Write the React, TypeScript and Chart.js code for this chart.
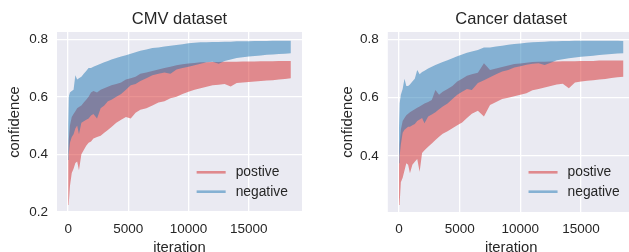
import React, { useEffect, useRef } from 'react';
import { Chart, registerables } from 'chart.js';

Chart.register(...registerables);

// ---- data (upper / lower envelope of each noisy curve) ----
const iterations = [0, 50, 150, 300, 450, 600, 750, 900, 1100, 1300, 1500, 1700, 1900, 2100, 2400, 2700, 3000, 3300, 3600, 4000, 4400, 4800, 5200, 5600, 6000, 6500, 7000, 7500, 8000, 8500, 9000, 9500, 10000, 10500, 11000, 11500, 12000, 12500, 13000, 13500, 14000, 14500, 15000, 15500, 16000, 16500, 17000, 17500, 18000, 18500];

const cmvPositiveHigh = [0.38, 0.45, 0.50, 0.53, 0.54, 0.55, 0.56, 0.565, 0.57, 0.58, 0.59, 0.60, 0.615, 0.62, 0.615, 0.625, 0.63, 0.635, 0.64, 0.645, 0.65, 0.66, 0.665, 0.67, 0.68, 0.685, 0.69, 0.695, 0.70, 0.705, 0.71, 0.713, 0.716, 0.718, 0.72, 0.72, 0.721, 0.721, 0.722, 0.722, 0.722, 0.723, 0.723, 0.723, 0.724, 0.724, 0.724, 0.725, 0.725, 0.725];
const cmvPositiveLow = [0.224, 0.228, 0.29, 0.335, 0.35, 0.37, 0.375, 0.345, 0.40, 0.415, 0.43, 0.44, 0.445, 0.455, 0.46, 0.465, 0.475, 0.485, 0.495, 0.51, 0.52, 0.53, 0.525, 0.545, 0.555, 0.56, 0.57, 0.58, 0.585, 0.595, 0.60, 0.61, 0.618, 0.625, 0.63, 0.635, 0.64, 0.642, 0.645, 0.636, 0.648, 0.65, 0.652, 0.653, 0.655, 0.657, 0.658, 0.66, 0.662, 0.665];
const cmvNegativeHigh = [0.50, 0.60, 0.615, 0.62, 0.625, 0.675, 0.66, 0.665, 0.67, 0.68, 0.69, 0.70, 0.70, 0.705, 0.71, 0.715, 0.72, 0.725, 0.73, 0.735, 0.74, 0.745, 0.75, 0.755, 0.76, 0.765, 0.77, 0.772, 0.775, 0.778, 0.78, 0.783, 0.786, 0.788, 0.79, 0.79, 0.791, 0.791, 0.792, 0.792, 0.793, 0.793, 0.793, 0.794, 0.794, 0.794, 0.795, 0.795, 0.795, 0.795];
const cmvNegativeLow = [0.38, 0.40, 0.44, 0.46, 0.47, 0.49, 0.50, 0.47, 0.51, 0.515, 0.52, 0.525, 0.535, 0.54, 0.525, 0.56, 0.57, 0.585, 0.59, 0.60, 0.61, 0.625, 0.64, 0.645, 0.655, 0.665, 0.675, 0.68, 0.685, 0.68, 0.695, 0.70, 0.705, 0.71, 0.715, 0.72, 0.722, 0.715, 0.725, 0.73, 0.735, 0.738, 0.74, 0.742, 0.744, 0.746, 0.747, 0.749, 0.75, 0.752];

const cancerPositiveHigh = [0.37, 0.44, 0.49, 0.52, 0.53, 0.54, 0.545, 0.55, 0.555, 0.56, 0.565, 0.57, 0.575, 0.58, 0.585, 0.592, 0.626, 0.61, 0.62, 0.63, 0.64, 0.655, 0.665, 0.675, 0.68, 0.685, 0.718, 0.695, 0.70, 0.705, 0.71, 0.715, 0.717, 0.72, 0.722, 0.723, 0.723, 0.724, 0.724, 0.725, 0.725, 0.725, 0.726, 0.726, 0.726, 0.727, 0.727, 0.727, 0.727, 0.727];
const cancerPositiveLow = [0.232, 0.236, 0.31, 0.325, 0.35, 0.375, 0.37, 0.341, 0.37, 0.38, 0.39, 0.346, 0.41, 0.42, 0.432, 0.443, 0.455, 0.466, 0.476, 0.485, 0.495, 0.505, 0.515, 0.53, 0.545, 0.555, 0.535, 0.575, 0.585, 0.595, 0.60, 0.605, 0.61, 0.615, 0.625, 0.63, 0.635, 0.64, 0.645, 0.648, 0.632, 0.652, 0.655, 0.658, 0.66, 0.662, 0.664, 0.667, 0.67, 0.672];
const cancerNegativeHigh = [0.50, 0.58, 0.61, 0.63, 0.665, 0.64, 0.64, 0.645, 0.655, 0.665, 0.695, 0.68, 0.688, 0.692, 0.70, 0.706, 0.712, 0.717, 0.722, 0.728, 0.735, 0.742, 0.748, 0.754, 0.758, 0.763, 0.772, 0.772, 0.775, 0.778, 0.781, 0.784, 0.786, 0.788, 0.79, 0.791, 0.792, 0.793, 0.793, 0.794, 0.794, 0.795, 0.795, 0.795, 0.795, 0.795, 0.795, 0.795, 0.795, 0.794];
const cancerNegativeLow = [0.375, 0.40, 0.44, 0.48, 0.49, 0.495, 0.50, 0.50, 0.505, 0.51, 0.52, 0.525, 0.53, 0.512, 0.535, 0.542, 0.55, 0.56, 0.57, 0.58, 0.595, 0.61, 0.62, 0.63, 0.626, 0.65, 0.66, 0.67, 0.68, 0.69, 0.695, 0.703, 0.708, 0.713, 0.716, 0.718, 0.712, 0.72, 0.728, 0.732, 0.735, 0.738, 0.74, 0.742, 0.744, 0.746, 0.748, 0.75, 0.751, 0.752];

const xTicks = [0, 5000, 10000, 15000];
const cmvYTicks = [0.2, 0.4, 0.6, 0.8];
const cancerYTicks = [0.4, 0.6, 0.8];
const seriesLabels = ['postive', 'negative'];

// ---- styles ----
const RED = 'rgba(214,39,40,0.5)';
const BLUE = 'rgba(31,119,180,0.5)';
const FONT = '"Liberation Sans", Arial, sans-serif';
const TEXT = '#262626';
const BG = '#EAEAF2';

const toPoints = (vals: number[]) => iterations.map((x, i) => ({ x, y: vals[i] }));

const bgPlugin = {
  id: 'plotBg',
  beforeDraw(chart: any) {
    const { ctx, chartArea: a } = chart;
    ctx.save();
    ctx.fillStyle = BG;
    ctx.fillRect(a.left, a.top, a.right - a.left, a.bottom - a.top);
    ctx.restore();
  },
};

const legendPlugin = {
  id: 'innerLegend',
  afterDraw(chart: any) {
    const { ctx, chartArea: a } = chart;
    const x0 = a.right - 0.43 * (a.right - a.left);
    const rows = [
      { label: seriesLabels[0], color: RED, y: a.bottom - 39.7 },
      { label: seriesLabels[1], color: BLUE, y: a.bottom - 20.3 },
    ];
    ctx.save();
    ctx.font = `13.8px ${FONT}`;
    ctx.textBaseline = 'middle';
    ctx.textAlign = 'left';
    rows.forEach((r) => {
      ctx.strokeStyle = r.color;
      ctx.lineWidth = 2.6;
      ctx.beginPath();
      ctx.moveTo(x0, r.y);
      ctx.lineTo(x0 + 29, r.y);
      ctx.stroke();
      ctx.fillStyle = TEXT;
      ctx.fillText(r.label, x0 + 39, r.y);
    });
    ctx.restore();
  },
};

type Panel = {
  title: string;
  posHigh: number[];
  posLow: number[];
  negHigh: number[];
  negLow: number[];
  yMin: number;
  yMax: number;
  yTicks: number[];
  padLeft: number;
  padRight: number;
  yTitlePad: number;
};

function makeConfig(p: Panel): any {
  const edge = { borderColor: 'rgba(0,0,0,0)', borderWidth: 0, pointRadius: 0, tension: 0 };
  const grid = { color: '#ffffff', lineWidth: 1.3, drawTicks: false };
  return {
    type: 'line',
    data: {
      datasets: [
        { ...edge, label: seriesLabels[0], data: toPoints(p.posHigh), fill: false, order: 2 },
        { ...edge, label: seriesLabels[0], data: toPoints(p.posLow), fill: '-1', backgroundColor: RED, order: 2 },
        { ...edge, label: seriesLabels[1], data: toPoints(p.negHigh), fill: false, order: 1 },
        { ...edge, label: seriesLabels[1], data: toPoints(p.negLow), fill: '-1', backgroundColor: BLUE, order: 1 },
      ],
    },
    options: {
      responsive: false,
      animation: false,
      events: [],
      layout: { padding: { left: p.padLeft, right: p.padRight, top: 0, bottom: 0 } },
      plugins: {
        legend: { display: false },
        tooltip: { enabled: false },
        title: {
          display: true,
          text: p.title,
          fullSize: false,
          color: TEXT,
          font: { family: FONT, size: 16.5, weight: 'normal' },
          padding: { top: 9.1, bottom: 3.1 },
        },
      },
      scales: {
        x: {
          type: 'linear',
          min: -925,
          max: 19425,
          afterBuildTicks: (s: any) => {
            s.ticks = xTicks.map((v) => ({ value: v }));
          },
          afterFit: (s: any) => {
            s.height = 50;
          },
          grid,
          border: { display: false },
          ticks: {
            padding: 9.5,
            color: TEXT,
            font: { family: FONT, size: 13.5 },
            maxRotation: 0,
            autoSkip: false,
            callback: (v: any) => String(v),
          },
          title: {
            display: true,
            text: 'iteration',
            color: TEXT,
            font: { family: FONT, size: 14.8 },
            padding: { top: 0, bottom: 5.1 },
          },
        },
        y: {
          type: 'linear',
          min: p.yMin,
          max: p.yMax,
          afterBuildTicks: (s: any) => {
            s.ticks = p.yTicks.map((v) => ({ value: v }));
          },
          afterFit: (s: any) => {
            s.width = 57;
          },
          grid,
          border: { display: false },
          ticks: {
            padding: 9,
            color: TEXT,
            font: { family: FONT, size: 13.5 },
            autoSkip: false,
            callback: (v: any) => Number(v).toFixed(1),
          },
          title: {
            display: true,
            text: 'confidence',
            color: TEXT,
            font: { family: FONT, size: 14.8 },
            padding: { top: p.yTitlePad, bottom: 0 },
          },
        },
      },
    },
    plugins: [bgPlugin, legendPlugin],
  };
}

export default function App() {
  const leftRef = useRef<HTMLCanvasElement>(null);
  const rightRef = useRef<HTMLCanvasElement>(null);

  useEffect(() => {
    const c1 = new Chart(
      leftRef.current as HTMLCanvasElement,
      makeConfig({
        title: 'CMV dataset',
        posHigh: cmvPositiveHigh,
        posLow: cmvPositiveLow,
        negHigh: cmvNegativeHigh,
        negLow: cmvNegativeLow,
        yMin: 0.1995,
        yMax: 0.8255,
        yTicks: cmvYTicks,
        padLeft: 0,
        padRight: 12,
        yTitlePad: 6.1,
      })
    );
    const c2 = new Chart(
      rightRef.current as HTMLCanvasElement,
      makeConfig({
        title: 'Cancer dataset',
        posHigh: cancerPositiveHigh,
        posLow: cancerPositiveLow,
        negHigh: cancerNegativeHigh,
        negLow: cancerNegativeLow,
        yMin: 0.208,
        yMax: 0.825,
        yTicks: cancerYTicks,
        padLeft: 16.8,
        padRight: 9.3,
        yTitlePad: 8.3,
      })
    );
    return () => {
      c1.destroy();
      c2.destroy();
    };
  }, []);

  return (
    <div
      style={{
        position: 'fixed',
        left: 0,
        top: 0,
        width: 629,
        height: 252,
        overflow: 'hidden',
        background: '#ffffff',
      }}
    >
      <canvas
        ref={leftRef}
        width={314}
        height={262}
        style={{ position: 'absolute', left: 0, top: 0, width: 314, height: 262, display: 'block' }}
      />
      <canvas
        ref={rightRef}
        width={330}
        height={262}
        style={{ position: 'absolute', left: 314, top: 0, width: 330, height: 262, display: 'block' }}
      />
    </div>
  );
}
